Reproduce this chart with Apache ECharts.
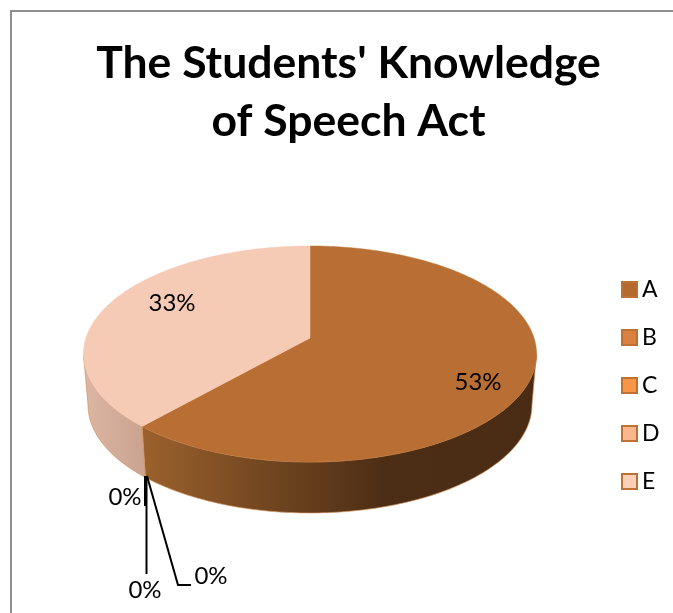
<!DOCTYPE html>
<html><head><meta charset="utf-8">
<style>html,body{margin:0;padding:0;background:#fff}#c{width:673px;height:613px}</style>
<script src="https://cdn.jsdelivr.net/npm/echarts@6/dist/echarts.min.js"></script>
</head><body><div id="c"></div>
<script>
const titleText = "The Students' Knowledge\nof Speech Act";
const categories = ['A', 'B', 'C', 'D', 'E'];
const values = [53, 0, 0, 0, 33];
const faceColors = ['#b96f33', '#dc843f', '#f79646', '#fab78d', '#f6cbb5'];
const legendFills = ['#b56a2f', '#d9813e', '#f79646', '#fab68c', '#fbcfb8'];
const wallStops = [
  [[0, '#9c612d'], [0.33, '#704520'], [0.62, '#4c2d15'], [1, '#4a2b14']],
  [[0, '#8a5a2c'], [1, '#8a5a2c']],
  [[0, '#c47a38'], [1, '#c47a38']],
  [[0, '#d8a080'], [1, '#d8a080']],
  [[0, '#dcb7a3'], [1, '#caa28f']]
];
const total = values.reduce((a, b) => a + b, 0);

// Perspective disc geometry
const G = {cx: 310, apexY: 338, k: 224, a: 55.6, c: -0.148, depth: 51, shrink: 0.98};
const BACK = 98.5, FRONT = 261.5;
function rimTop(deg) {
  const t = deg * Math.PI / 180, u = Math.sin(t), v = -Math.cos(t), d = 1 + G.c * v;
  return [G.cx + G.k * u / d, (G.apexY + G.a * v) / d];
}
function rimBottom(deg) {
  const p = rimTop(deg);
  return [G.cx + (p[0] - G.cx) * G.shrink, p[1] + G.depth];
}
function arc(fn, from, to) {
  const n = Math.max(2, Math.ceil(Math.abs(to - from))), pts = [];
  for (let i = 0; i <= n; i++) pts.push(fn(from + (to - from) * i / n));
  return pts;
}
const labelPlaces = [
  {x: 478, y: 382},
  {x: 125, y: 497},
  {x: 145, y: 590},
  {x: 211, y: 576},
  {x: 172, y: 303}
];
const leaderLines = [
  null,
  [[145, 476], [145, 506]],
  [[146.5, 476], [146.5, 574]],
  [[147, 476], [178, 585], [191, 585]],
  null
];

function makeRender(idx) {
  return function (params, api) {
    const start = api.value(0) / total * 360, sweep = api.value(1) / total * 360, end = start + sweep;
    const kids = [];
    const wFrom = Math.max(start, BACK), wTo = Math.min(end, FRONT);
    if (sweep > 0 && wTo > wFrom) {
      const pts = arc(rimTop, wFrom, wTo).concat(arc(rimBottom, wTo, wFrom));
      kids.push({type: 'polygon', shape: {points: pts}, style: {
        fill: new echarts.graphic.LinearGradient(0, 0, 1, 0, wallStops[idx].map(s => ({offset: s[0], color: s[1]}))),
        stroke: '#d0935f', lineWidth: 0.7}});
    }
    if (sweep > 0) {
      const pts = [[G.cx, G.apexY]].concat(arc(rimTop, start, end));
      kids.push({type: 'polygon', shape: {points: pts}, style: {fill: faceColors[idx], stroke: faceColors[idx], lineWidth: 0.5}});
    }
    if (leaderLines[idx]) {
      kids.push({type: 'polyline', shape: {points: leaderLines[idx]}, style: {fill: null, stroke: '#000', lineWidth: 2}, z2: 5});
    }
    const lp = labelPlaces[idx];
    kids.push({type: 'text', z2: 10, style: {x: lp.x, y: lp.y, text: api.value(1) + '%', fill: '#000',
      font: '24px Lato', align: 'center', verticalAlign: 'middle'}});
    return {type: 'group', children: kids};
  };
}

let acc = 0;
const series = categories.map((name, i) => {
  const s = {name, type: 'custom', coordinateSystem: 'none', silent: true, animation: false,
    itemStyle: {color: legendFills[i]}, renderItem: makeRender(i), data: [[acc, values[i]]]};
  acc += values[i];
  return s;
});

const chart = echarts.init(document.getElementById('c'), null, {renderer: 'canvas'});
chart.setOption({
  animation: false,
  backgroundColor: '#fff',
  title: {text: titleText, left: 343.5, top: 30, textAlign: 'center',
    textStyle: {fontFamily: 'Lato', fontWeight: 'bold', fontSize: 44.5, lineHeight: 58, color: '#000'}},
  legend: {orient: 'vertical', left: 616, top: 273, itemWidth: 15, itemHeight: 15, itemGap: 25,
    textStyle: {fontFamily: 'Lato', fontSize: 23, color: '#000'},
    selectedMode: false,
    data: categories.map((name, i) => ({name, icon: 'rect',
      itemStyle: {color: legendFills[i], borderColor: '#bd7233', borderWidth: 2}}))},
  graphic: [{type: 'polyline', silent: true, shape: {points: [[11, 613], [11, 11], [673, 11]]},
    style: {fill: null, stroke: '#8f8f8f', lineWidth: 2}}],
  series
});
</script></body></html>
